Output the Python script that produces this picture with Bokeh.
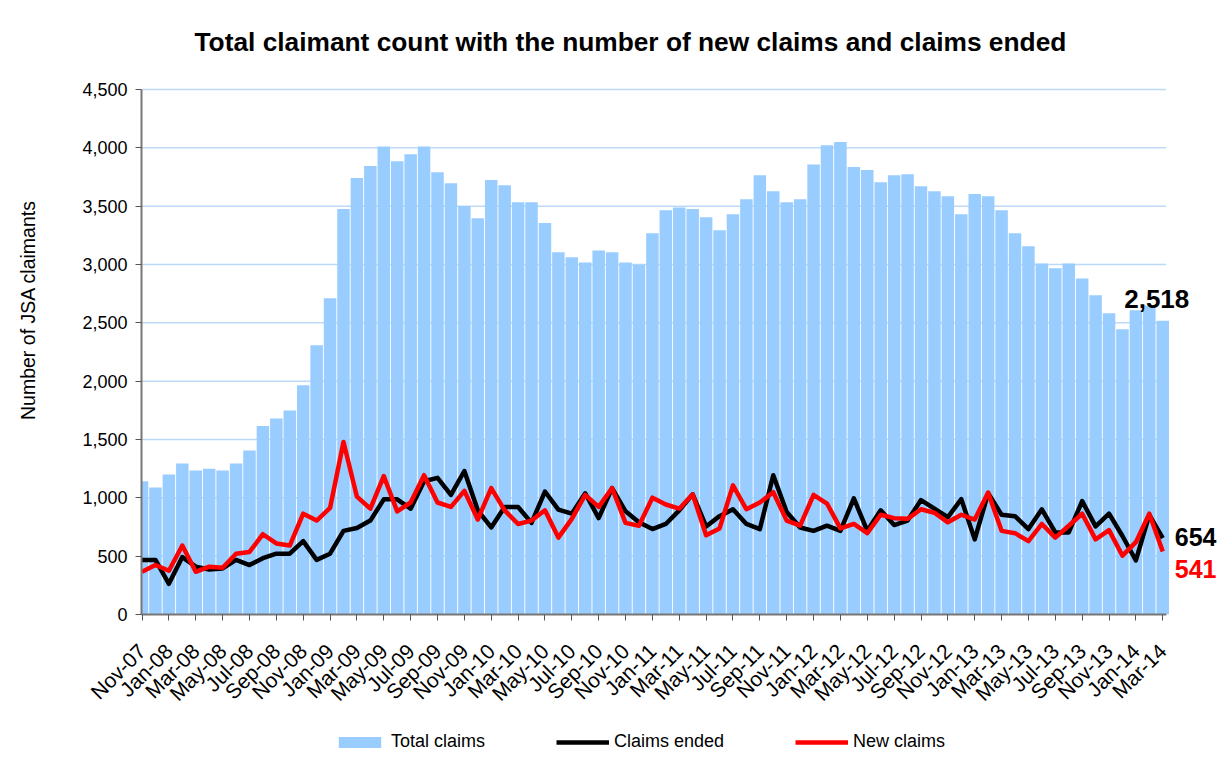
from bokeh.plotting import figure
from bokeh.layouts import column
from bokeh.models import Range1d, FixedTicker, NumeralTickFormatter, Legend, LegendItem, Label
from bokeh.embed import file_html
from bokeh.resources import INLINE

months = ["Nov-07", "Dec-07",
          "Jan-08", "Feb-08", "Mar-08", "Apr-08", "May-08", "Jun-08", "Jul-08", "Aug-08", "Sep-08", "Oct-08", "Nov-08", "Dec-08",
          "Jan-09", "Feb-09", "Mar-09", "Apr-09", "May-09", "Jun-09", "Jul-09", "Aug-09", "Sep-09", "Oct-09", "Nov-09", "Dec-09",
          "Jan-10", "Feb-10", "Mar-10", "Apr-10", "May-10", "Jun-10", "Jul-10", "Aug-10", "Sep-10", "Oct-10", "Nov-10", "Dec-10",
          "Jan-11", "Feb-11", "Mar-11", "Apr-11", "May-11", "Jun-11", "Jul-11", "Aug-11", "Sep-11", "Oct-11", "Nov-11", "Dec-11",
          "Jan-12", "Feb-12", "Mar-12", "Apr-12", "May-12", "Jun-12", "Jul-12", "Aug-12", "Sep-12", "Oct-12", "Nov-12", "Dec-12",
          "Jan-13", "Feb-13", "Mar-13", "Apr-13", "May-13", "Jun-13", "Jul-13", "Aug-13", "Sep-13", "Oct-13", "Nov-13", "Dec-13",
          "Jan-14", "Feb-14", "Mar-14"]

total_claims = [1142, 1089, 1200, 1294, 1235, 1250, 1235, 1294, 1405, 1616, 1680, 1748, 1964, 2307, 2711, 3475, 3741, 3844, 4011, 3885,
                3946, 4011, 3791, 3697, 3501, 3396, 3724, 3680, 3533, 3533, 3355, 3106, 3062, 3018, 3121, 3106, 3018, 2998, 3267, 3466,
                3489, 3475, 3405, 3293, 3431, 3560, 3765, 3627, 3533, 3560, 3858, 4022, 4049, 3835, 3809, 3706, 3765, 3773, 3671,
                3627, 3586, 3431, 3604, 3586, 3466, 3267, 3156, 3009, 2968, 3009, 2881, 2737, 2582, 2444, 2608, 2649, 2518]

claims_ended = [468, 468, 263, 492, 410, 386, 395, 468, 424, 483, 521, 521, 629, 468, 521, 717, 741, 805, 987, 987,
                907, 1142, 1171, 1025, 1230, 893, 746, 922, 922, 785, 1054, 899, 864, 1039, 826, 1083, 884, 790, 732, 776,
                893, 1030, 755, 843, 902, 776, 732, 1194, 878, 746, 717, 761, 717, 995, 717, 893, 767, 805, 981,
                907, 834, 989, 644, 1039, 855, 843, 732, 902, 703, 703, 972, 755, 864, 673, 463, 855, 654]

new_claims = [366, 424, 375, 591, 366, 410, 401, 521, 536, 688, 609, 591, 864, 805, 913, 1478, 1010, 907, 1186, 884,
              960, 1194, 960, 922, 1060, 814, 1083, 893, 776, 805, 893, 659, 820, 1025, 922, 1083, 785, 761, 1001, 943,
              907, 1030, 679, 738, 1107, 902, 960, 1048, 805, 761, 1025, 951, 738, 776, 697, 855, 826, 820, 902,
              872, 790, 855, 814, 1045, 717, 697, 629, 776, 659, 761, 864, 644, 723, 504, 620, 864, 541]

y_ticks = [0, 500, 1000, 1500, 2000, 2500, 3000, 3500, 4000, 4500]

TITLE = "Total claimant count with the number of new claims and claims ended"
FONT = "Liberation Sans"
xs = list(range(len(months)))
label_idx = list(range(0, len(months), 2))
X_START, X_AXIS_END, X_VIEW_END = -0.04, 76.25, 80.3
Y_AXIS_END, Y_VIEW_END = 4500, 5220

p = figure(width=1220, height=721, output_backend="svg", toolbar_location=None,
           x_range=Range1d(X_START, X_VIEW_END), y_range=Range1d(0, Y_VIEW_END),
           min_border_left=141, min_border_right=0, min_border_top=5, min_border_bottom=107)
p.outline_line_color = None
p.background_fill_color = "white"
p.border_fill_color = "white"

# horizontal gridlines limited to the plotting area
p.segment(x0=[X_START] * len(y_ticks), x1=[X_AXIS_END] * len(y_ticks), y0=y_ticks, y1=y_ticks,
          line_color="#BDD9F7", line_width=1.5)

bars = p.vbar(x=xs, top=total_claims, width=0.93, fill_color="#99CCFF", line_color=None)
l_end = p.line(xs, claims_ended, line_color="black", line_width=4.5, line_join="round")
l_new = p.line(xs, new_claims, line_color="#FF0000", line_width=4.5, line_join="round")

p.xgrid.visible = False
p.ygrid.visible = False

ya = p.yaxis[0]
ya.bounds = (0, Y_AXIS_END)
ya.ticker = FixedTicker(ticks=y_ticks)
ya.formatter = NumeralTickFormatter(format="0,0")
ya.major_label_text_font = FONT
ya.major_label_text_font_size = "18px"
ya.major_label_text_color = "black"
ya.axis_line_color = "#777777"
ya.axis_line_width = 2
ya.major_tick_line_color = "#555555"
ya.major_tick_out = 6
ya.major_tick_in = 0
ya.minor_tick_line_color = None
ya.major_label_standoff = 8
ya.axis_label = "Number of JSA claimants"
ya.axis_label_text_font = FONT
ya.axis_label_text_font_size = "19.5px"
ya.axis_label_text_font_style = "normal"
ya.axis_label_text_color = "black"
ya.axis_label_standoff = 40

xa = p.xaxis[0]
xa.bounds = (X_START, X_AXIS_END)
xa.ticker = FixedTicker(ticks=label_idx)
xa.major_label_overrides = {i: months[i] for i in label_idx}
xa.major_label_orientation = 0.785398
xa.major_label_text_font = FONT
xa.major_label_text_font_size = "21px"
xa.major_label_text_color = "black"
xa.major_label_standoff = 27
xa.major_tick_out = 6
xa.major_tick_in = 0
xa.major_tick_line_color = "#555555"
xa.minor_tick_line_color = None
xa.axis_line_color = "#777777"
xa.axis_line_width = 2

# chart title
p.add_layout(Label(x=38, y=Y_AXIS_END, text=TITLE, x_offset=-22, y_offset=48, text_align="center",
                   text_baseline="alphabetic", text_font=FONT, text_font_size="26.3px", text_font_style="bold",
                   text_color="black"))

# end-of-series value labels
last = len(months) - 1
p.add_layout(Label(x=last, y=total_claims[-1], text=f"{total_claims[-1]:,}", x_offset=-6, y_offset=22,
                   text_align="center", text_baseline="alphabetic", text_font=FONT, text_font_size="26px",
                   text_font_style="bold", text_color="black"))
p.add_layout(Label(x=last, y=claims_ended[-1], text=f"{claims_ended[-1]:,}", x_offset=12, y_offset=1,
                   text_align="left", text_baseline="alphabetic", text_font=FONT, text_font_size="25px",
                   text_font_style="bold", text_color="black"))
p.add_layout(Label(x=last, y=new_claims[-1], text=f"{new_claims[-1]:,}", x_offset=12, y_offset=-18,
                   text_align="left", text_baseline="alphabetic", text_font=FONT, text_font_size="25px",
                   text_font_style="bold", text_color="#FF0000"))

# legend strip below the chart (proxy renderers kept out of view)
p2 = figure(width=1220, height=45, output_backend="svg", toolbar_location=None,
            x_range=Range1d(-1000, -999), y_range=Range1d(-1000, -999), min_border=0,
            x_axis_location=None, y_axis_location=None)
p2.outline_line_color = None
p2.grid.visible = False
k_bar = p2.vbar(x=xs, top=total_claims, width=0.93, fill_color="#99CCFF", line_color=None)
k_end = p2.line(xs, claims_ended, line_color="black", line_width=4.5)
k_new = p2.line(xs, new_claims, line_color="#FF0000", line_width=4.5)
legend = Legend(items=[LegendItem(label="Total claims", renderers=[k_bar]),
                       LegendItem(label="Claims ended", renderers=[k_end]),
                       LegendItem(label="New claims", renderers=[k_new])],
                orientation="horizontal", location=(192, 14),
                glyph_width=53, glyph_height=14, label_standoff=5, spacing=71,
                label_text_font=FONT, label_text_font_size="18px", label_text_color="black",
                border_line_color=None, background_fill_alpha=0, padding=0, margin=0)
p2.add_layout(legend)

layout = column(p, p2, spacing=0)
open("out.html", "w").write(file_html(layout, INLINE))
